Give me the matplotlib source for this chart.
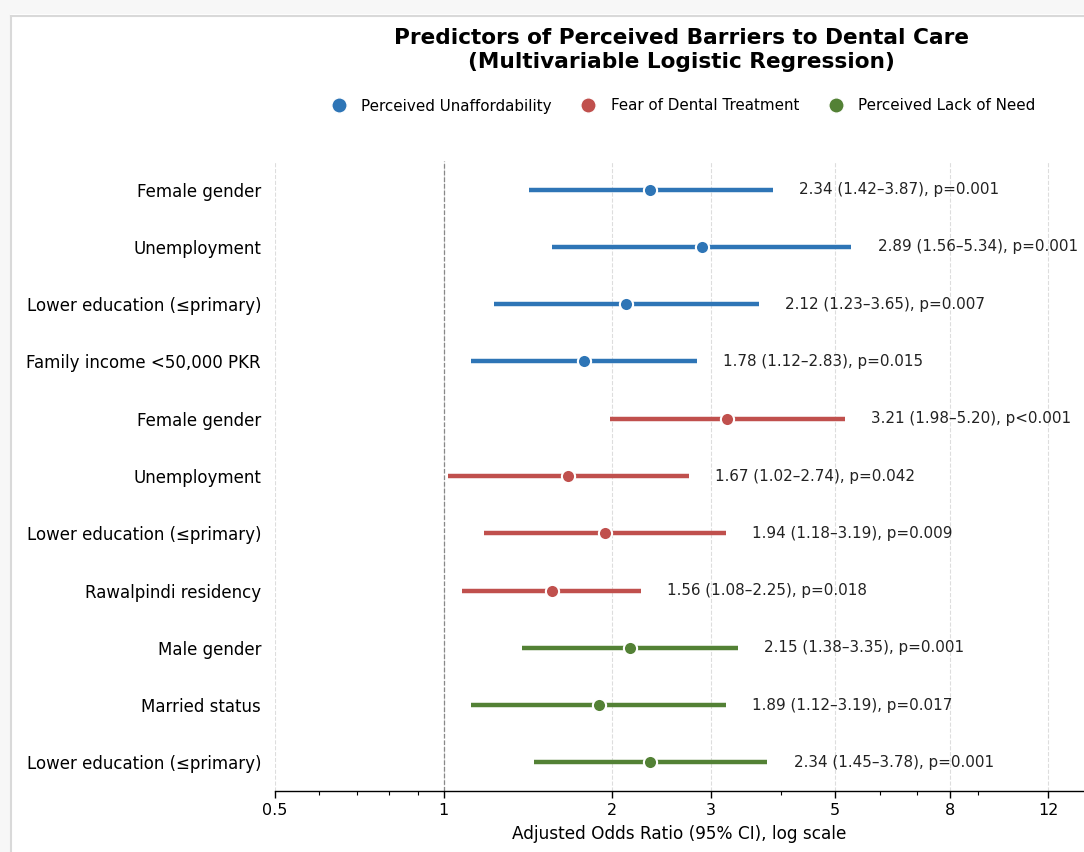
import numpy as np
import matplotlib
matplotlib.use('Agg')
import matplotlib.pyplot as plt
from matplotlib.lines import Line2D
from matplotlib.patches import Rectangle
from matplotlib.ticker import FixedLocator, LogLocator, NullFormatter

# data (top to bottom)
labels = ['Female gender', 'Unemployment', 'Lower education (\u2264primary)', 'Family income <50,000 PKR',
          'Female gender', 'Unemployment', 'Lower education (\u2264primary)', 'Rawalpindi residency',
          'Male gender', 'Married status', 'Lower education (\u2264primary)']
aor = [2.34, 2.89, 2.12, 1.78, 3.21, 1.67, 1.94, 1.56, 2.15, 1.89, 2.34]
ci_low = [1.42, 1.56, 1.23, 1.12, 1.98, 1.02, 1.18, 1.08, 1.38, 1.12, 1.45]
ci_high = [3.87, 5.34, 3.65, 2.83, 5.20, 2.74, 3.19, 2.25, 3.35, 3.19, 3.78]
pvals = ['p=0.001', 'p=0.001', 'p=0.007', 'p=0.015',
         'p<0.001', 'p=0.042', 'p=0.009', 'p=0.018',
         'p=0.001', 'p=0.017', 'p=0.001']
group = [0, 0, 0, 0, 1, 1, 1, 1, 2, 2, 2]
group_names = ['Perceived Unaffordability', 'Fear of Dental Treatment', 'Perceived Lack of Need']
colors = ['#2E75B6', '#C0504D', '#538135']

xticks = [0.5, 1, 2, 3, 5, 8, 12]

fig = plt.figure(figsize=(10.84, 8.52), dpi=100)
ax = fig.add_axes([275/1084, 1-791/852, 1-275/1084, (791-161)/852])

y = np.arange(len(labels))
for i in y:
    c = colors[group[i]]
    ax.plot([ci_low[i], ci_high[i]], [i, i], color=c, lw=3.2, solid_capstyle='butt', zorder=3)
    ax.plot(aor[i], i, 'o', color=c, ms=9.5, mec='white', mew=1.5, zorder=4)
    ax.text(ci_high[i]*1.115, i, f'{aor[i]:.2f} ({ci_low[i]:.2f}\u2013{ci_high[i]:.2f}), {pvals[i]}',
            va='center', ha='left', fontsize=10.9, color='#222222', clip_on=False)

ax.axvline(1, color='#888888', ls='--', lw=0.9, zorder=2)

ax.set_xscale('log')
ax.set_xlim(0.5, 13.9)
ax.set_ylim(10.5, -0.5)
ax.xaxis.set_major_locator(FixedLocator(xticks))
ax.set_xticklabels([str(t) for t in xticks])
ax.xaxis.set_minor_locator(LogLocator(base=10, subs=np.arange(2, 10)))
ax.xaxis.set_minor_formatter(NullFormatter())
ax.set_yticks(y)
ax.set_yticklabels(labels, fontsize=12)
ax.tick_params(axis='y', length=0, pad=10)
ax.tick_params(axis='x', labelsize=11.5, length=5, width=1, direction='out')
ax.tick_params(axis='x', which='minor', length=3, width=0.8)
ax.grid(axis='x', which='major', color='#dddddd', ls='--', lw=0.8, zorder=0)
ax.set_axisbelow(True)
for s in ['top', 'right', 'left']:
    ax.spines[s].set_visible(False)
ax.spines['bottom'].set_linewidth(1)
ax.set_xlabel('Adjusted Odds Ratio (95% CI), log scale', fontsize=12.2, labelpad=5)

handles = [Line2D([], [], marker='o', ls='', color=c, ms=11, mec='white', mew=1) for c in colors]
ax.legend(handles, group_names, loc='center', bbox_to_anchor=(0.5, 1 + 55/630), ncol=3,
          frameon=False, fontsize=10.9, handletextpad=0.5, columnspacing=1.4)

fig.text(681/1084, 1-50/852, 'Predictors of Perceived Barriers to Dental Care\n(Multivariable Logistic Regression)',
         ha='center', va='center', fontsize=15.6, fontweight='bold', linespacing=1.25)

# screenshot frame at top/left
fig.add_artist(Rectangle((0, 1-14/852), 1, 14/852, transform=fig.transFigure, color='#f7f7f7', lw=0))
fig.add_artist(Rectangle((0, 0), 10/1084, 1, transform=fig.transFigure, color='#f7f7f7', lw=0))
fig.add_artist(Line2D([11/1084, 1], [1-15.5/852, 1-15.5/852], transform=fig.transFigure, color='#d9d9d9', lw=1.5))
fig.add_artist(Line2D([11/1084, 11/1084], [0, 1-15.5/852], transform=fig.transFigure, color='#d9d9d9', lw=1.5))

fig.savefig('out.png', dpi=100)
